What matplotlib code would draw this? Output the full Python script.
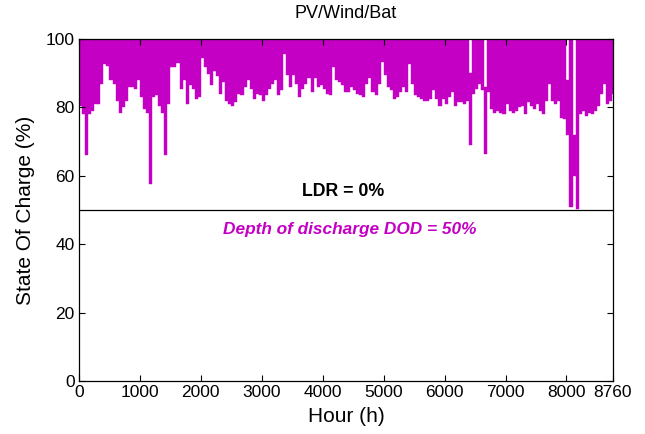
import matplotlib
matplotlib.use("Agg")
import matplotlib.pyplot as plt
import numpy as np

plt.rcParams['font.family'] = ['Liberation Sans', 'DejaVu Sans']

# 50-hour bins over the year; lower envelope (daily discharge minima)
bin_hours = list(range(0, 8760, 50))
soc_low = [
    80.5, 78, 66, 78, 79, 81, 81, 87, 92.7, 92, 88, 87, 82, 78.5, 80, 82, 86, 86, 85.5, 88,
    83, 79.5, 78.5, 57.6, 83, 83.5, 80.5, 78.5, 66, 81,
    91.7, 91.7, 93, 85.5, 88, 81, 86.5, 85.5, 82.5, 83, 94.6, 91.7, 89.8, 86.5, 90.7, 89.3, 84, 87.3, 82, 81,
    80.5, 81.5, 84, 83.5, 86, 88, 85.5, 82.5, 84,
    83.5, 82, 83.5, 85.5, 87, 88, 83.5, 85, 95.6, 89.6, 86, 89.6, 87, 83, 85.5, 87, 88.5, 84.5, 88.5, 86,
    86.5, 85.5, 84, 83.5, 91.7, 88, 87.3, 86.5, 84.5, 84.5,
    86, 85, 84, 83.5, 83, 87, 88.5, 84.5, 83.5, 87, 93.2, 89.6, 86, 85, 82.5, 83, 84.5, 86, 84.5, 92.7,
    87, 83.5, 83, 82.5, 82, 82, 82.5, 85, 82.5,
    80.5, 82.5, 81, 83, 84.5, 80.5, 81.5, 81.5, 81, 82, 69, 84, 85.5, 87, 85, 66.5, 84.5, 79.5, 78.5, 79,
    78.5, 78, 81, 79, 78.5, 79, 80, 80.5, 78, 81.5,
    80.5, 79.5, 81, 79, 78, 82, 87, 82, 81, 82, 77, 76.5, 72, 50.8, 60, 50.3, 78, 79, 77.5, 78.5,
    78, 79, 80.5, 84, 87, 81, 82, 84,
]
# upper envelope (recharge peaks)
soc_high = [
    100, 100, 100, 100, 100, 100, 100, 100, 100, 100, 100, 100, 100, 100, 100, 100, 100, 100, 100, 100,
    100, 100, 100, 100, 100, 100, 100, 100, 100, 100, 100, 100, 100, 100, 100, 100, 100, 100, 100, 100,
    100, 100, 100, 100, 100, 100, 100, 100, 100, 100, 100, 100, 100, 100, 100, 100, 100, 100, 100, 100,
    100, 100, 100, 100, 100, 100, 100, 100, 100, 100, 100, 100, 100, 100, 100, 100, 100, 100, 100, 100,
    100, 100, 100, 100, 100, 100, 100, 100, 100, 100, 100, 100, 100, 100, 100, 100, 100, 100, 100, 100,
    100, 100, 100, 100, 100, 100, 100, 100, 100, 100, 100, 100, 100, 100, 100, 100, 100, 100, 100, 100,
    100, 100, 100, 100, 100, 100, 100, 100, 90, 100, 100, 100, 100, 86, 100, 100, 100, 100, 100, 100,
    100, 100, 100, 100, 100, 100, 100, 100, 100, 100, 100, 100, 100, 100, 100, 100, 100, 100, 100, 100,
    88, 100, 72, 100, 100, 100, 100, 100, 100, 100, 100, 100, 100, 100, 100, 100,
]
dod_level = 50
x_ticks = [0, 1000, 2000, 3000, 4000, 5000, 6000, 7000, 8000, 8760]

low = np.array(soc_low, dtype=float)
high = np.array(soc_high, dtype=float)

fig = plt.figure(figsize=(6.45, 4.34), dpi=100)
ax = fig.add_axes([0.1225, 0.1221, 0.8275, 0.7879])
magenta = '#c300c3'
ax.bar(bin_hours, high - low, bottom=low, width=50, align='edge', color=magenta,
       edgecolor=magenta, linewidth=0.3)
ax.axhline(dod_level, color='black', lw=0.9)

ax.text(4330, 55.3, 'LDR = 0%', ha='center', va='center', fontsize=12.8, fontweight='bold', color='black')
ax.text(4445, 44.4, 'Depth of discharge DOD = 50%', ha='center', va='center', fontsize=12.4,
        fontweight='bold', fontstyle='italic', color=magenta)

ax.set_xlim(0, 8760)
ax.set_ylim(0, 100)
ax.set_xticks(x_ticks)
ax.set_yticks([0, 20, 40, 60, 80, 100])
ax.tick_params(direction='in', top=True, right=True, length=4, labelsize=12.5, width=0.8, pad=3)
for s in ax.spines.values():
    s.set_linewidth(0.9)
ax.set_xlabel('Hour (h)', fontsize=15, labelpad=5)
ax.set_ylabel('State Of Charge (%)', fontsize=15, labelpad=8)
ax.set_title('PV/Wind/Bat', fontsize=13, pad=15)

fig.savefig('out.png', dpi=100)
